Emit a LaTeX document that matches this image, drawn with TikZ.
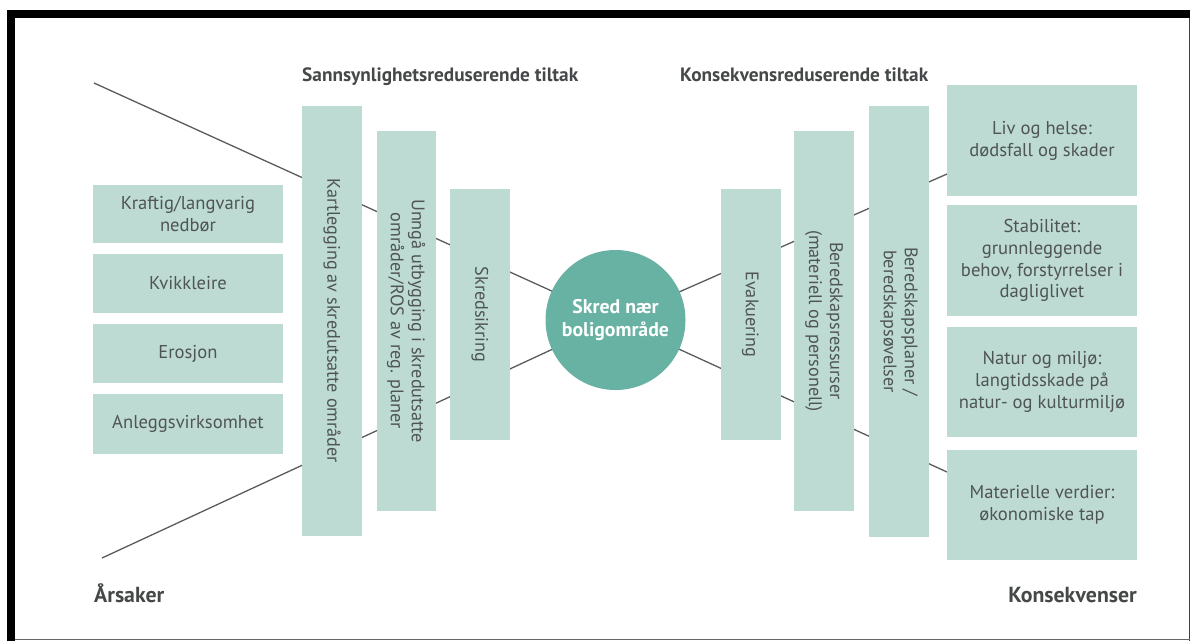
\documentclass[tikz,border=0pt]{standalone}
\usepackage{fontspec}
\setmainfont{PT Sans}
\usetikzlibrary{backgrounds}
\definecolor{boxfill}{HTML}{BDDBD2}
\definecolor{hubfill}{HTML}{67B2A2}
\definecolor{ink}{HTML}{4F5454}
\definecolor{headink}{HTML}{454848}
\definecolor{linecol}{HTML}{5A5C5C}
\begin{document}
\begin{tikzpicture}[x=1pt,y=-1pt,
  txt/.style={font=\fontsize{18.6}{21.8}\selectfont, text=ink, align=center},
  hbox/.style={txt, fill=boxfill, inner sep=0pt, minimum width=190pt},
  vbox/.style={txt, font=\fontsize{18.2}{21}\selectfont, fill=boxfill, inner sep=0pt, rotate=-90, minimum height=60pt},
  hub/.style={circle, fill=hubfill, text=white, align=center, inner sep=0pt,
    minimum size=140pt, font=\fontsize{19.8}{22.5}\selectfont\bfseries},
  heading/.style={font=\fontsize{19.3}{22}\selectfont\bfseries, text=headink, inner sep=0pt},
  corner/.style={font=\fontsize{21.8}{24}\selectfont\bfseries, text=headink, inner sep=0pt},
  link/.style={draw=linecol, line width=1.3pt}]

\useasboundingbox (0,0) rectangle (1192,641);

% causes
\node[hbox, minimum height=58pt] (c1) at (188,214) {Kraftig/langvarig\\nedbør};
\node[hbox, minimum height=59pt] (c2) at (188,283.5) {Kvikkleire};
\node[hbox, minimum height=59pt] (c3) at (188,353.5) {Erosjon};
\node[hbox, minimum height=60pt] (c4) at (188,424) {Anleggsvirksomhet};

% probability-reducing measures
\node[vbox, minimum width=430pt] (p1) at (332,321) {Kartlegging av skredutsatte områder};
\node[vbox, minimum width=380pt, minimum height=59pt] (p2) at (406,321) {Unngå utbygging i skredutsatte\\områder/ROS av reg. planer};
\node[vbox, minimum width=251pt] (p3) at (480,314.5) {Skredsikring};

% the event
\node[hub] (hub) at (615.5,320) {Skred nær\\boligområde};

% consequence-reducing measures
\node[vbox, minimum width=251pt] (k1) at (750.5,314.5) {Evakuering};
\node[vbox, minimum width=380pt] (k2) at (824,321) {Beredskapsressurser\\(materiell og personell)};
\node[vbox, minimum width=431pt] (k3) at (899,321.5) {Beredskapsplaner /\\beredskapsøvelser};

% consequences
\node[hbox, minimum height=111pt] (q1) at (1042,140.5) {Liv og helse:\\dødsfall og skader};
\node[hbox, minimum height=111pt] (q2) at (1042,260.5) {Stabilitet:\\grunnleggende\\behov, forstyrrelser i\\dagliglivet};
\node[hbox, minimum height=110pt] (q3) at (1042,382) {Natur og miljø:\\langtidsskade på\\natur- og kulturmiljø};
\node[hbox, minimum height=110pt] (q4) at (1042,505) {Materielle verdier:\\økonomiske tap};

% headings
\node[heading, anchor=base west] (h1) at (302,81) {Sannsynlighetsreduserende tiltak};
\node[heading, anchor=base west] (h2) at (680,81) {Konsekvensreduserende tiltak};
\node[corner, anchor=base west] (h3) at (94,602) {Årsaker};
\node[corner, anchor=base east] (h4) at (1137,602) {Konsekvenser};

% outer ends of the bow-tie lines
\coordinate (ul) at (94,83);
\coordinate (ll) at (102,558);
\coordinate (ur) at (947,174);
\coordinate (lr) at (947,472);

\begin{pgfonlayer}{background}
  % page and frame
  \fill[white] (0,0) rectangle (1192,641);
  \fill[black] (7,10) rectangle (1190,18);
  \fill[black] (7,10) rectangle (15,641);
  \draw[black!75, line width=1.2pt] (1189.4,18) -- (1189.4,641);
  \draw[black!60, line width=1.2pt] (15,639.6) -- (1190,639.6);
  % bow-tie lines, running behind the boxes
  \draw[link] (ul) -- (hub.center);
  \draw[link] (ll) -- (hub.center);
  \draw[link] (hub.center) -- (ur);
  \draw[link] (hub.center) -- (lr);
\end{pgfonlayer}
\end{tikzpicture}
\end{document}
